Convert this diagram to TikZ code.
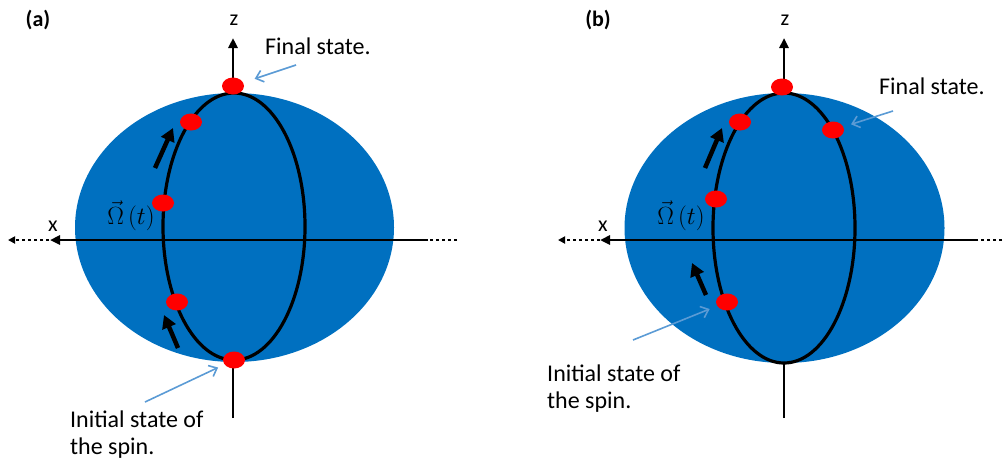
\documentclass[tikz,border=0pt]{standalone}
\usepackage{fontspec}
\setmainfont{Carlito}
\usetikzlibrary{arrows.meta,shapes.geometric}
\definecolor{sphereblue}{RGB}{0,112,192}
\definecolor{noteblue}{RGB}{91,155,213}
\definecolor{spinred}{RGB}{255,0,0}
\tikzset{
  spin/.style={ellipse, fill=spinred, minimum width=22pt, minimum height=17pt, inner sep=0pt},
  axisline/.style={line width=2.6pt, -{Triangle[length=10pt,width=9pt]}},
  axisdots/.style={line width=2.6pt, dash pattern=on 2.6pt off 3.4pt, -{Triangle[length=7pt,width=7pt]}},
  motion/.style={line width=4.5pt, -{Triangle[length=13pt,width=14pt]}},
  note/.style={noteblue, line width=1.6pt, -{Straight Barb[length=7pt,width=12pt]}},
  notetext/.style={font=\fontsize{24}{27}\selectfont, align=left, inner sep=0pt},
  axislabel/.style={font=\fontsize{22}{24}\selectfont, inner sep=0pt},
  omega/.style={font=\fontsize{24}{26}\selectfont, inner sep=0pt},
  panel/.style={font=\fontsize{22}{24}\selectfont\bfseries, inner sep=0pt}
}
\begin{document}
\begin{tikzpicture}[x=1pt,y=-1pt]
  \useasboundingbox (0,0) rectangle (1003,467);

  % Etykiety paneli
  \node[panel] (pa) at (38,20) {(a)};
  \node[panel] (pb) at (598,20) {(b)};

  % Osie z (pod sferami)
  \node[axislabel] (za) at (234,20) {z};
  \node[axislabel] (zb) at (785,20) {z};
  \draw[axisline] (233,418) -- (233,38);
  \draw[axisline] (784,418) -- (784,38);

  % Sfery
  \fill[sphereblue] (234.5,227.5) ellipse (159.5pt and 134.5pt);
  \fill[sphereblue] (784.5,228) ellipse (160pt and 135pt);
  \draw[line width=3.2pt] (234,226.5) ellipse (71pt and 133.5pt);
  \draw[line width=3.2pt] (784,228) ellipse (71pt and 135pt);

  % Osie x
  \node[axislabel] (xa) at (53,226) {x};
  \node[axislabel] (xb) at (603,226) {x};
  \draw[axisdots] (457,240) -- (8,240);
  \draw[axisline] (428,240) -- (50,240);
  \draw[axisdots] (1002,240) -- (558,240);
  \draw[axisline] (978,240) -- (600,240);

  % Omega
  \node[omega] (wa) at (131,216) {$\vec{\Omega}\,(t)$};
  \node[omega] (wb) at (681,216) {$\vec{\Omega}\,(t)$};

  % Stany spinu (a)
  \node[spin] (a1) at (234,360) {};
  \node[spin] (a2) at (177,302) {};
  \node[spin] (a3) at (163,203) {};
  \node[spin] (a4) at (191,122) {};
  \node[spin] (a5) at (233,86) {};
  % Stany spinu (b)
  \node[spin] (b1) at (727,302) {};
  \node[spin] (b2) at (716,199) {};
  \node[spin] (b3) at (740,122) {};
  \node[spin] (b4) at (782,87) {};
  \node[spin] (b5) at (833,130) {};

  % Kierunek ruchu
  \coordinate (ma1) at (178,348); \coordinate (ma2) at (164,315);
  \coordinate (ma3) at (155,168); \coordinate (ma4) at (173,128);
  \coordinate (mb1) at (706,295); \coordinate (mb2) at (692,263);
  \coordinate (mb3) at (705,168); \coordinate (mb4) at (722,128);
  \draw[motion] (ma1) -- (ma2);
  \draw[motion] (ma3) -- (ma4);
  \draw[motion] (mb1) -- (mb2);
  \draw[motion] (mb3) -- (mb4);

  % Opisy
  \node[notetext, anchor=west] (fa) at (265,46) {Final state.};
  \node[notetext, anchor=west] (fb) at (879,86) {Final state.};
  \node[notetext, anchor=west] (ia) at (70,435) {Initial state of\\the spin.};
  \node[notetext, anchor=west] (ib) at (547,389) {Initial state of\\the spin.};
  \coordinate (fat) at (296,65);
  \coordinate (fbt) at (893,111);
  \coordinate (iat) at (145,402);
  \coordinate (ibt) at (633,340);
  \draw[note, shorten >=12pt] (fat) -- (a5);
  \draw[note, shorten >=8pt] (fbt) -- (b5);
  \draw[note, shorten >=7pt] (iat) -- (a1);
  \draw[note, shorten >=8pt] (ibt) -- (b1);
\end{tikzpicture}
\end{document}
